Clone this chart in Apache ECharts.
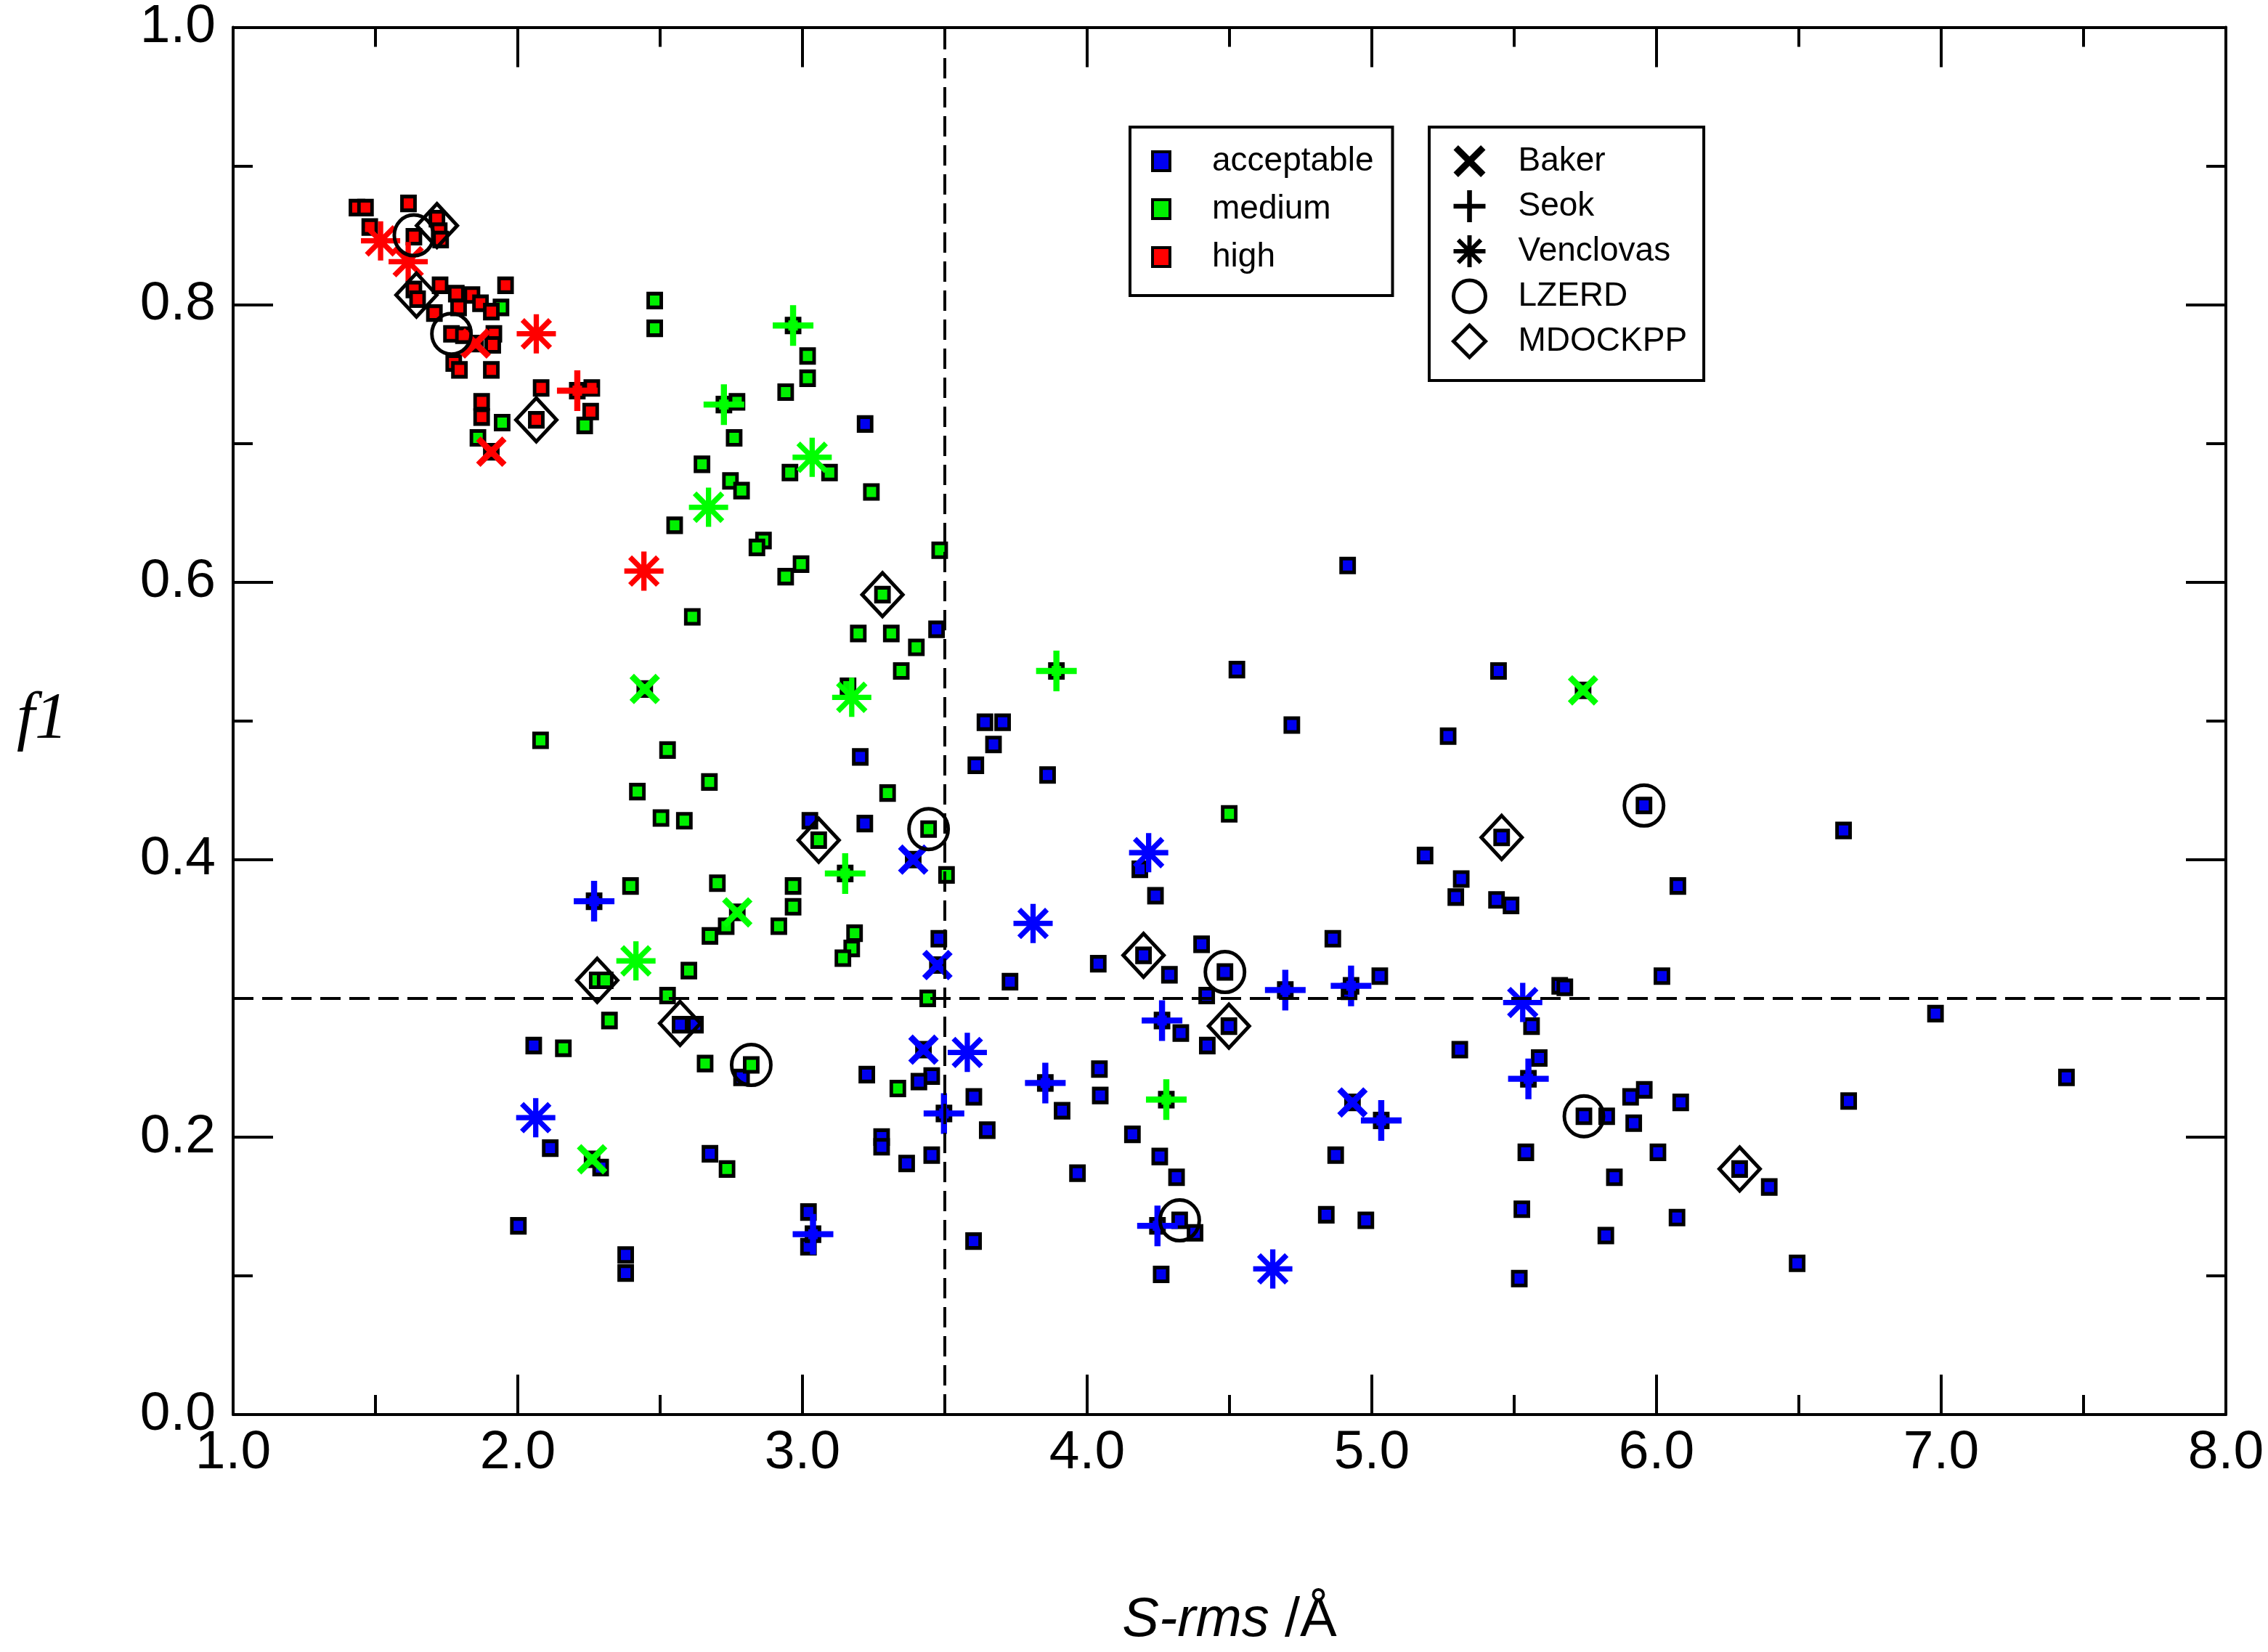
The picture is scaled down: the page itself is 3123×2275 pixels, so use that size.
<!DOCTYPE html>
<html><head><meta charset="utf-8">
<script src="https://cdn.jsdelivr.net/npm/echarts@6/dist/echarts.min.js"></script>
<style>html,body{margin:0;padding:0;background:#fff}#c{width:3123px;height:2275px}</style>
</head><body><div id="c"></div>
<script>
// ---- data (x = S-rms / Å, y = f1) ----
const acceptable = [
 [3.22,0.714],[4.915,0.612],[3.471,0.566],[3.203,0.474],[3.026,0.428],[3.219,0.426],
 [4.526,0.537],[5.445,0.536],[3.641,0.499],[3.703,0.499],[3.671,0.483],[3.609,0.468],[3.861,0.461],[4.719,0.497],[5.268,0.489],
 [4.185,0.393],[4.24,0.374],[5.456,0.416],[5.187,0.403],[5.314,0.386],[5.295,0.373],[5.438,0.371],[5.489,0.367],
 [3.479,0.343],[3.729,0.312],[4.039,0.325],[4.198,0.331],[4.289,0.317],[4.402,0.339],[4.484,0.319],[4.92,0.305],[5.028,0.316],[4.863,0.343],[5.66,0.309],[4.42,0.302],
 [5.956,0.439],[6.657,0.421],[6.075,0.381],[6.019,0.316],[6.98,0.289],[7.44,0.243],[6.675,0.226],
 [2.57,0.281],[2.624,0.281],[2.056,0.266],[2.786,0.243],[3.226,0.245],[2.114,0.192],[2.291,0.178],[2.675,0.188],[3.278,0.2],[3.278,0.193],[3.366,0.181],[2.002,0.136],[3.021,0.146],[3.021,0.121],[2.379,0.115],[2.379,0.102],
 [3.454,0.244],[3.409,0.24],[3.602,0.229],[3.649,0.205],[3.454,0.187],[3.912,0.219],[4.043,0.249],[4.046,0.23],[3.966,0.174],[4.329,0.275],[4.422,0.266],[4.498,0.28],[4.159,0.202],[4.255,0.186],[4.314,0.171],[4.325,0.14],[4.379,0.131],[4.26,0.101],[3.601,0.125],[4.873,0.187],[4.84,0.144],[4.979,0.14],[5.309,0.263],[5.561,0.28],[5.588,0.257],[5.541,0.189],[5.527,0.148],[5.518,0.098],
 [5.745,0.215],[5.825,0.215],[5.909,0.229],[5.957,0.234],[5.92,0.21],[6.085,0.225],[6.005,0.189],[5.852,0.171],[6.292,0.177],[6.396,0.164],[6.072,0.142],[5.822,0.129],[6.494,0.109],[5.678,0.308]
];
const medium = [
 [1.941,0.798],[2.235,0.713],[1.945,0.715],[1.86,0.704],
 [2.481,0.803],[2.481,0.783],[3.018,0.763],[3.018,0.747],[2.941,0.737],[2.77,0.73],[2.76,0.704],[2.956,0.679],[3.095,0.679],[3.242,0.665],[2.647,0.685],[2.747,0.673],[2.786,0.666],[2.551,0.641],[2.863,0.63],[2.84,0.625],[2.995,0.613],[2.941,0.604],[3.281,0.591],[3.482,0.623],
 [2.613,0.575],[3.196,0.563],[3.312,0.563],[3.4,0.553],[3.347,0.536],[3.16,0.525],[2.08,0.486],[2.526,0.479],[2.673,0.456],[2.42,0.449],[3.299,0.448],[2.503,0.43],[2.585,0.428],[3.057,0.414],[3.443,0.422],[4.499,0.433],[3.506,0.389],
 [2.396,0.381],[2.701,0.383],[2.967,0.381],[2.967,0.366],[2.732,0.352],[2.675,0.345],[2.917,0.352],[3.183,0.347],[3.173,0.336],[3.142,0.329],[2.279,0.313],[2.307,0.313],[2.601,0.32],[2.526,0.302],[3.44,0.3],
 [2.322,0.284],[2.16,0.264],[2.658,0.253],[2.82,0.252],[3.335,0.235],[2.735,0.177]
];
const high = [
 [1.435,0.87],[1.465,0.87],[1.616,0.873],[1.48,0.856],[1.716,0.862],[1.724,0.853],[1.729,0.847],[1.635,0.849],[1.635,0.811],[1.648,0.804],
 [1.727,0.814],[1.784,0.808],[1.839,0.807],[1.869,0.801],[1.907,0.795],[1.957,0.814],[1.707,0.794],[1.792,0.798],[1.767,0.779],[1.809,0.778],
 [1.916,0.779],[1.912,0.771],[1.775,0.758],[1.795,0.753],[1.907,0.753],[2.082,0.74],[2.26,0.74],[2.256,0.723],[1.873,0.73],[1.873,0.719],[2.065,0.717]
];
const baker = [
 [1.852,0.772,'high'],[1.907,0.694,'high'],[2.446,0.523,'medium'],[2.771,0.362,'medium'],[2.261,0.184,'medium'],[5.742,0.522,'medium'],
 [3.389,0.4,'acceptable'],[3.474,0.324,'acceptable'],[3.425,0.263,'acceptable'],[4.932,0.225,'acceptable']
];
const seok = [
 [2.209,0.738,'high'],[2.967,0.785,'medium'],[2.724,0.728,'medium'],[3.15,0.39,'medium'],[3.892,0.536,'medium'],[4.278,0.227,'medium'],
 [2.268,0.37,'acceptable'],[3.037,0.13,'acceptable'],[3.497,0.217,'acceptable'],[3.853,0.239,'acceptable'],[4.263,0.284,'acceptable'],
 [4.247,0.136,'acceptable'],[4.696,0.306,'acceptable'],[4.927,0.309,'acceptable'],[5.033,0.212,'acceptable'],[5.55,0.242,'acceptable']
];
const venclovas = [
 [1.518,0.846,'high'],[1.615,0.831,'high'],[2.065,0.779,'high'],[2.443,0.608,'high'],
 [3.034,0.69,'medium'],[2.67,0.654,'medium'],[3.173,0.517,'medium'],[2.415,0.327,'medium'],
 [4.216,0.405,'acceptable'],[3.81,0.354,'acceptable'],[3.579,0.261,'acceptable'],[2.063,0.214,'acceptable'],[4.652,0.105,'acceptable'],[5.53,0.297,'acceptable']
];
const lzerd = [[1.635,0.85],[1.767,0.779],[3.443,0.422],[2.82,0.252],[4.484,0.319],[4.325,0.14],[5.956,0.439],[5.745,0.215]];
const mdockpp = [[1.716,0.857],[1.644,0.807],[2.065,0.717],[3.281,0.591],[3.057,0.414],[2.279,0.313],[2.57,0.282],[4.198,0.331],[4.498,0.28],[5.456,0.416],[6.292,0.177]];
const thresholdX = 3.5;
const thresholdY = 0.3;
const classNames = ['acceptable','medium','high'];
const groupNames = ['Baker','Seok','Venclovas','LZERD','MDOCKPP'];

// ---- styling ----
const classColor = {acceptable:'#0000f0', medium:'#00f000', high:'#ff0000'};
const symColor = {acceptable:'#0000ff', medium:'#00ff00', high:'#ff0000'};
function bars(angles, w) {
  let d = '';
  angles.forEach(a => {
    const r = a * Math.PI / 180, c = Math.cos(r), s = Math.sin(r);
    const nx = -s * w, ny = c * w;
    const p = [[-c+nx,-s+ny],[c+nx,s+ny],[c-nx,s-ny],[-c-nx,-s-ny]];
    d += 'M' + p.map(q => q[0].toFixed(4) + ' ' + q[1].toFixed(4)).join(' L') + ' Z ';
  });
  return 'path://' + d;
}
const xPath = bars([45,135], 0.17);
const plusPath = bars([0,90], 0.15);
const starPath = bars([0,45,90,135], 0.135);
const FONT = 'Liberation Sans';

function squaresFor(cls, list) {
  const extra = baker.concat(seok).filter(p => p[2] === cls).map(p => [p[0], p[1]]);
  return list.concat(extra);
}
function colored(list) {
  return list.map(p => ({value:[p[0], p[1]], itemStyle:{color: symColor[p[2]], opacity:1}}));
}
function squareSeries(cls, list) {
  return {type:'scatter', name:cls, symbol:'rect', symbolSize:[18,19], z:3,
    data:squaresFor(cls, list),
    itemStyle:{color:classColor[cls], borderColor:'#000', borderWidth:5, opacity:1}};
}

const series = [
  {type:'scatter', name:'thresholds', data:[], z:1, silent:true,
   markLine:{silent:true, symbol:['none','none'], label:{show:false}, animation:false,
     lineStyle:{color:'#000', width:4, type:[28,12], opacity:1},
     data:[{xAxis:thresholdX},{yAxis:thresholdY}]}},
  squareSeries('acceptable', acceptable),
  squareSeries('medium', medium),
  squareSeries('high', high),
  {type:'scatter', name:'Baker', symbol:xPath, symbolSize:42, z:4, data:colored(baker),
    itemStyle:{color:'#000', borderWidth:0, opacity:1}},
  {type:'scatter', name:'Seok', symbol:plusPath, symbolSize:56, z:4, data:colored(seok),
    itemStyle:{color:'#000', borderWidth:0, opacity:1}},
  {type:'scatter', name:'Venclovas', symbol:starPath, symbolSize:54, z:4, data:colored(venclovas),
    itemStyle:{color:'#000', borderWidth:0, opacity:1}},
  {type:'scatter', name:'LZERD', symbol:'circle', symbolSize:[54,56], z:5, data:lzerd,
    itemStyle:{color:'rgba(0,0,0,0)', borderColor:'#000', borderWidth:5, opacity:1}},
  {type:'scatter', name:'MDOCKPP', symbol:'diamond', symbolSize:[56,60], z:5, data:mdockpp,
    itemStyle:{color:'rgba(0,0,0,0)', borderColor:'#000', borderWidth:5, opacity:1}}
];

const axisCommon = {
  axisLine:{show:true, onZero:false, lineStyle:{color:'#000', width:4}},
  axisTick:{show:true, inside:true, length:55, lineStyle:{color:'#000', width:4}},
  minorTick:{show:true, splitNumber:2, length:27, lineStyle:{color:'#000', width:4}},
  splitLine:{show:false}
};
const labelStyle = {color:'#000', fontFamily:FONT, fontSize:75, formatter: v => Number(v).toFixed(1)};

const legendTextBase = {color:'#000', fontFamily:FONT, fontSize:46, lineHeight:50};

const option = {
  animation:false,
  backgroundColor:'#fff',
  grid:{left:321, right:58, top:36, bottom:317, containLabel:false},
  xAxis:[
    Object.assign({type:'value', min:1, max:8, interval:1, position:'bottom',
      name:'{i|S-rms }{n|/Å}', nameLocation:'middle', nameGap:246,
      nameTextStyle:{rich:{i:{fontFamily:FONT, fontStyle:'italic', fontSize:76, color:'#000'},
                           n:{fontFamily:FONT, fontSize:76, color:'#000'}}},
      axisLabel:Object.assign({margin:16}, labelStyle)}, axisCommon),
    Object.assign({type:'value', min:1, max:8, interval:1, position:'top',
      axisLabel:{show:false}}, axisCommon)
  ],
  yAxis:[
    Object.assign({type:'value', min:0, max:1, interval:0.2, position:'left',
      name:'f1', nameLocation:'middle', nameRotate:0, nameGap:228,
      nameTextStyle:{fontFamily:'Liberation Serif', fontStyle:'italic', fontSize:90, color:'#000'},
      axisLabel:Object.assign({margin:24}, labelStyle)}, axisCommon),
    Object.assign({type:'value', min:0, max:1, interval:0.2, position:'right',
      axisLabel:{show:false}}, axisCommon)
  ],
  legend:[
    {orient:'vertical', left:1556, top:175, selectedMode:false,
     padding:[22,26,28,29], itemGap:16, itemWidth:24, itemHeight:26,
     borderColor:'#000', borderWidth:4, backgroundColor:'#fff',
     textStyle:Object.assign({padding:[0,0,0,53]}, legendTextBase),
     data:classNames.map(n => ({name:n, icon:'rect',
       itemStyle:{color:classColor[n], borderColor:'#000', borderWidth:4, opacity:1}}))},
    {orient:'vertical', left:1968, top:175, selectedMode:false,
     padding:[22,23,29,31], itemGap:12, itemWidth:44, itemHeight:44,
     borderColor:'#000', borderWidth:4, backgroundColor:'#fff',
     textStyle:Object.assign({padding:[0,0,0,40]}, legendTextBase),
     data:[
       {name:'Baker', icon:xPath, itemStyle:{color:'#000', borderWidth:0, opacity:1}},
       {name:'Seok', icon:plusPath, itemStyle:{color:'#000', borderWidth:0, opacity:1}},
       {name:'Venclovas', icon:starPath, itemStyle:{color:'#000', borderWidth:0, opacity:1}},
       {name:'LZERD', icon:'circle', itemStyle:{color:'rgba(0,0,0,0)', borderColor:'#000', borderWidth:5, opacity:1}},
       {name:'MDOCKPP', icon:'diamond', itemStyle:{color:'rgba(0,0,0,0)', borderColor:'#000', borderWidth:5, opacity:1}}
     ]}
  ],
  series: series
};
const chart = echarts.init(document.getElementById('c'), null, {renderer:'canvas'});
chart.setOption(option);
</script>
</body></html>
